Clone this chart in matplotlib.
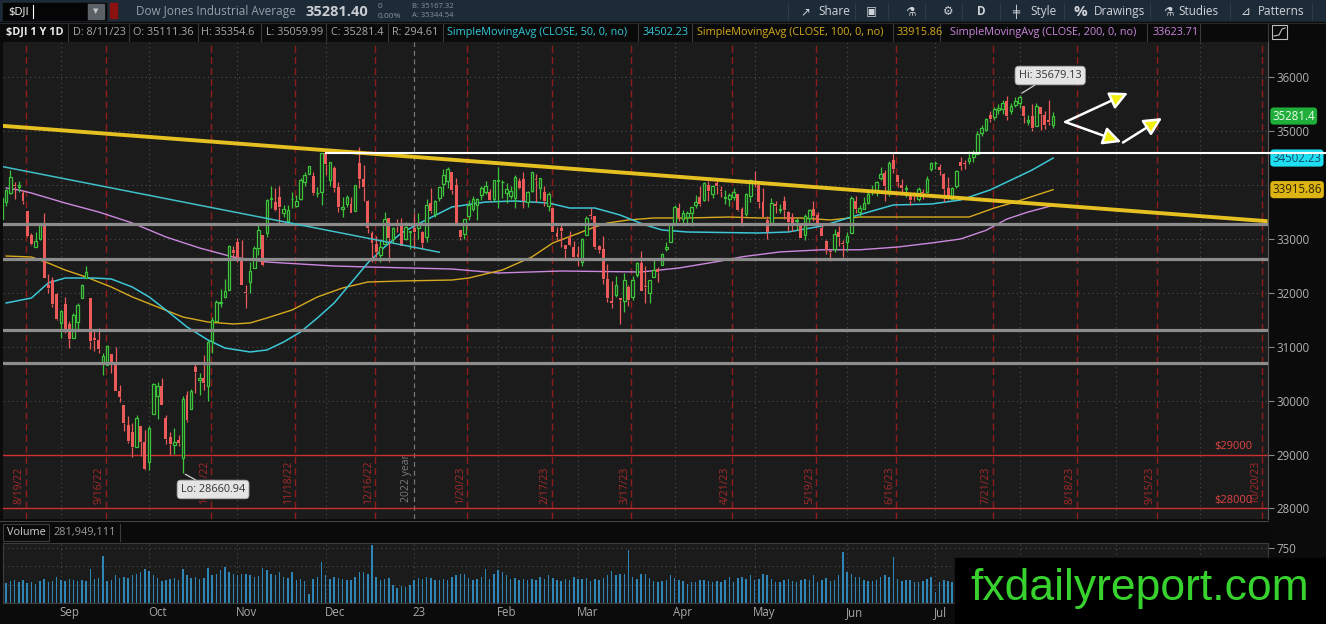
import numpy as np
import pandas as pd
import matplotlib
matplotlib.use("Agg")
import matplotlib.pyplot as plt
from matplotlib.patches import Rectangle

plt.rcParams['font.family'] = ['Open Sans', 'DejaVu Sans']

# ---------------- data ----------------
holidays = ['2022-09-05', '2022-11-24', '2022-12-26', '2023-01-02', '2023-01-16',
            '2023-02-20', '2023-04-07', '2023-05-29', '2023-06-19', '2023-07-04',
            '2023-09-04']
expiries = ['2022-08-19', '2022-09-16', '2022-10-21', '2022-11-18', '2022-12-16',
            '2023-01-20', '2023-02-17', '2023-03-17', '2023-04-21', '2023-05-19',
            '2023-06-16', '2023-07-21', '2023-08-18', '2023-09-15', '2023-10-20']

# daily OHLC, $DJI 8/12/22 - 8/11/23 (one row per month)
opens = [
    33376, 33683, 33854, 34008, 33960, 33861, 33512, 33068, 32859, 33006, 33273, 32153, 32240, 31984,
    31447, 31798, 31416, 31160, 31460, 31900, 32278, 31900, 31170, 31118, 30699, 30664, 30874, 30700, 30184, 29917, 29553, 29417, 29147, 29538, 29240,
    28855, 29749, 30085, 30280, 29683, 29327, 29187, 29269, 28946, 30112, 29851, 30618, 30375, 30427, 30267, 31111, 31481, 31818, 31920, 32045, 32788,
    32936, 32640, 32009, 32200, 32453, 32827, 33071, 33108, 33747, 33679, 33781, 33486, 33340, 33737, 33615, 33746, 34051, 34213, 34165, 33849, 33873,
    34589, 34089, 34318, 33973, 33565, 33641, 33658, 33512, 34418, 34113, 33706, 33104, 32906, 32707, 32907, 33385, 33001, 33254, 33264, 32997, 33121,
    33210, 33206, 33134, 33039, 33661, 33460, 33764, 34017, 34082, 34234, 33996, 33164, 33098, 33419, 33552, 33640, 33820, 33872, 33880, 33741,
    34068, 34051, 33860, 33798, 33761, 34070, 34106, 33680, 33898, 34120, 33954, 33870, 33620, 33583, 33111, 33211, 32890, 33010, 32846,
    32720, 32580, 33070, 33442, 33420, 32866, 32822, 32258, 31850, 31958, 31900, 31850, 32106, 31920, 32328, 32560, 32125, 31998, 32300, 32439, 32523, 32812, 32940,
    33297, 33580, 33370, 33407, 33480, 33627, 33772, 33724, 34000, 33836, 34048, 33916, 33754, 33742, 33783, 33831, 33561, 33456, 33797,
    34067, 33998, 33690, 33350, 33300, 33657, 33545, 33700, 33494, 33404, 33332, 33288, 33080, 33395, 33554, 33440, 33211, 32967, 32780, 32810, 33130, 32920,
    32947, 33120, 33700, 33500, 33564, 33666, 33865, 33905, 34136, 34224, 33877, 34466, 34186, 34000, 33920, 33800, 33726, 33750, 33867, 33880, 34300,
    34410, 34330, 34200, 33939, 33740, 33980, 34420, 34400, 34444, 34515, 34580, 34962, 35026, 35300, 35268, 35390, 35421, 35560, 35380, 35480,
    35520, 35460, 35180, 35290, 35100, 35440, 35300, 35210, 35111.36]
highs = [
    33762, 33934, 34281, 34063, 34078, 33900, 33512, 33113, 33124, 33300, 33478, 32355, 32300, 32000,
    31677, 31928, 31486, 31626, 31819, 32174, 32505, 31900, 31300, 31350, 30881, 31039, 30874, 31005, 30299, 29917, 29716, 29592, 29734, 29538, 29460,
    29533, 30337, 30348, 30429, 29738, 29425, 29494, 29367, 30087, 30178, 30219, 30722, 30518, 30844, 31124, 31561, 31860, 32065, 32260, 32883, 32867,
    33017, 32987, 32154, 32575, 32870, 33302, 33071, 33740, 33986, 33950, 33987, 33637, 33640, 33869, 33812, 34127, 34238, 34362, 34234, 33962, 34590,
    34595, 34429, 34349, 34054, 33783, 33819, 33771, 34011, 34712, 34371, 33718, 33152, 33050, 32994, 33494, 33385, 33227, 33374, 33381, 33307, 33152,
    33484, 33482, 33148, 33733, 33946, 33728, 33974, 34300, 34336, 34234, 34134, 33164, 33380, 33725, 33798, 33758, 33977, 34083, 33935, 34087,
    34334, 34087, 34036, 33984, 34180, 34137, 34245, 33897, 34252, 34208, 34128, 33982, 33869, 33583, 33223, 33304, 32890, 33157, 32970,
    32875, 33026, 33426, 33572, 33424, 32894, 33064, 32533, 32213, 32314, 31901, 32373, 32149, 32317, 32573, 32779, 32500, 32240, 32641, 32485, 32747, 32941, 33274,
    33632, 33664, 33542, 33524, 33587, 33817, 33975, 34052, 34082, 33997, 34113, 33982, 33900, 33850, 33944, 33843, 33588, 33855, 34104,
    34257, 33999, 33943, 33432, 33760, 33713, 33642, 33799, 33528, 33491, 33392, 33305, 33458, 33560, 33702, 33504, 33266, 32990, 32790, 33191, 33240, 32976,
    33136, 33798, 33800, 33638, 33786, 33866, 34000, 34067, 34336, 34288, 34450, 34588, 34186, 34120, 34002, 33840, 33875, 33965, 33935, 34163, 34424,
    34450, 34390, 34220, 34155, 33972, 34277, 34516, 34465, 34630, 34650, 35005, 35118, 35254, 35370, 35446, 35509, 35578, 35650, 35526, 35630,
    35679.13, 35460, 35300, 35500, 35520, 35450, 35380, 35579, 35354.6]
lows = [
    33360, 33621, 33835, 33743, 33878, 33650, 33040, 32892, 32851, 32987, 32273, 31999, 31733, 31500,
    31171, 31252, 30980, 31160, 31326, 31900, 32278, 30967, 30917, 30876, 30479, 30664, 30522, 30183, 29977, 29439, 29218, 28959, 29136, 28974, 28716,
    28715, 29749, 29652, 29911, 29203, 28988, 29002, 29161, 28660.94, 29607, 29851, 30142, 30113, 30193, 29991, 30876, 31481, 31744, 31905, 32045, 32627,
    32581, 32143, 31728, 32006, 32453, 32694, 32496, 33042, 33583, 33518, 33290, 33417, 33283, 33573, 33601, 33721, 33985, 34205, 33809, 33777, 33635,
    34196, 33987, 33881, 33492, 33412, 33587, 33477, 33511, 33953, 33711, 33105, 32573, 32658, 32581, 32907, 32573, 32928, 33130, 32876, 32977, 32816,
    32812, 33009, 32813, 32948, 33485, 33405, 33703, 33800, 33942, 33844, 33264, 32982, 33008, 33353, 33520, 33360, 33729, 33833, 33708, 33712,
    33583, 33764, 33669, 33743, 33583, 33919, 33580, 33596, 33873, 33679, 33748, 33620, 33518, 33127, 32955, 32858, 32637, 32861, 32653,
    32500, 32500, 33070, 33379, 32821, 32740, 32167, 31825, 31719, 31922, 31429, 31645, 31755, 31873, 32300, 32030, 31804, 31805, 32300, 32197, 32521, 32779, 32940,
    33272, 33342, 33298, 33306, 33235, 33582, 33607, 33697, 33705, 33757, 33828, 33771, 33650, 33621, 33719, 33516, 33235, 33420, 33686,
    33968, 33570, 33400, 33008, 33300, 33480, 33475, 33380, 33144, 33144, 33166, 33011, 32989, 33257, 33339, 33270, 33053, 32730, 32586, 32758, 32868, 32674,
    32777, 33120, 33488, 33406, 33564, 33647, 33813, 33796, 34090, 33700, 33799, 34223, 33960, 33860, 33785, 33630, 33700, 33703, 33747, 33880, 34254,
    34307, 34188, 33695, 33722, 33734, 33937, 34287, 34300, 34390, 34436, 34580, 34916, 35008, 35168, 35215, 35322, 35313, 35216, 35317, 35456,
    35433, 35156, 35117, 35005, 35100, 35017, 35045, 35124, 35059.99]
closes = [
    33761, 33912, 34152, 33980, 33999, 33706, 33063, 32909, 32969, 33291, 32283, 32098, 31790, 31510,
    31656, 31318, 31145, 31581, 31774, 32151, 32381, 31105, 31135, 30962, 30822, 31020, 30706, 30184, 30077, 29590, 29261, 29135, 29684, 29226, 28726,
    29490, 30317, 30274, 29927, 29297, 29203, 29240, 29211, 30039, 29635, 30186, 30524, 30424, 30334, 31083, 31500, 31837, 31840, 32034, 32861, 32733,
    32654, 32148, 32002, 32403, 32827, 33161, 32514, 33716, 33748, 33537, 33593, 33554, 33547, 33746, 33700, 34098, 34195, 34347, 33850, 33853, 34590,
    34395, 34430, 33947, 33597, 33598, 33781, 33477, 34005, 34109, 33966, 33203, 32920, 32757, 32850, 33377, 33027, 33204, 33241, 32876, 33221, 33147,
    33136, 33270, 32930, 33631, 33518, 33704, 33974, 34190, 34303, 33911, 33297, 33045, 33375, 33630, 33734, 33744, 33949, 33978, 33717, 34086,
    34093, 34054, 33926, 33891, 34156, 33949, 33699, 33869, 34246, 34089, 34128, 33697, 33827, 33130, 33045, 33154, 32817, 32889, 32657,
    32662, 33004, 33391, 33431, 32856, 32798, 32254, 31910, 31820, 32155, 31875, 32247, 31862, 32245, 32561, 32031, 32106, 32238, 32433, 32395, 32717, 32860, 33274,
    33601, 33403, 33483, 33486, 33587, 33685, 33647, 34030, 33887, 33988, 33977, 33897, 33787, 33809, 33875, 33531, 33302, 33827, 34098,
    34051, 33684, 33414, 33128, 33675, 33619, 33562, 33531, 33310, 33301, 33349, 33012, 33421, 33536, 33427, 33287, 33056, 32800, 32765, 33093, 33043, 32908,
    33061, 33763, 33563, 33573, 33665, 33834, 33877, 34066, 34212, 33979, 34408, 34299, 34054, 33952, 33947, 33727, 33715, 33927, 33853, 34122, 34408,
    34418, 34288, 33922, 33734, 33944, 34262, 34348, 34395, 34509, 34586, 34952, 35061, 35225, 35228, 35411, 35438, 35520, 35282, 35459, 35560,
    35630, 35283, 35216, 35066, 35473, 35314, 35124, 35176, 35281.4]
# volume, millions
volumes = [
    290, 270, 300, 310, 280, 320, 270, 280, 260, 300, 330, 280, 300, 360,
    310, 300, 330, 320, 300, 320, 300, 460, 330, 340, 640, 300, 310, 380, 340, 360, 340, 380, 400, 420, 470,
    430, 380, 340, 300, 320, 330, 340, 320, 470, 380, 340, 350, 330, 340, 480, 380, 400, 450, 490, 420, 400,
    380, 400, 390, 380, 360, 370, 480, 450, 400, 380, 420, 360, 340, 420, 320, 330, 300, 125, 330, 360, 560,
    380, 330, 350, 340, 330, 320, 310, 360, 420, 420, 400, 790, 360, 320, 330, 340, 250, 210, 230, 220, 240,
    320, 340, 330, 350, 340, 320, 310, 330, 320, 360, 380, 390, 400, 340, 320, 330, 350, 470, 330, 400,
    445, 420, 380, 330, 340, 320, 330, 310, 330, 320, 350, 330, 380, 340, 320, 300, 330, 310, 360,
    330, 330, 340, 300, 330, 320, 340, 380, 430, 380, 400, 390, 720, 360, 330, 400, 390, 340, 300, 290, 300, 320, 380,
    340, 320, 300, 260, 280, 290, 320, 310, 300, 290, 300, 290, 310, 360, 290, 340, 360, 330, 380,
    320, 330, 390, 380, 330, 290, 280, 320, 330, 300, 290, 310, 330, 320, 380, 280, 320, 340, 300, 320, 380, 695,
    420, 400, 360, 350, 320, 300, 300, 310, 350, 380, 360, 625, 330, 300, 310, 320, 280, 290, 300, 330, 350,
    150, 280, 320, 300, 290, 300, 330, 320, 320, 330, 360, 350, 340, 380, 320, 320, 340, 380, 320, 340,
    330, 340, 300, 320, 290, 300, 310, 290, 282]

# moving averages (bar index, value)
sma50_idx = [1, 7, 11, 15, 22, 26, 31, 35, 39, 44, 49, 53, 59, 63, 67, 71, 75, 79, 83, 87, 91, 95,
             99, 107, 115, 122, 130, 135, 141, 147, 153, 157, 163, 180, 187, 195, 202, 212, 221,
             228, 235, 240, 245, 250]
sma50_val = [31813, 31905, 32184, 32276, 32276, 32258, 32109, 31924, 31683, 31368, 31126, 30978,
             30904, 30941, 31089, 31275, 31534, 31813, 32184, 32555, 32851, 33111, 33280, 33594,
             33686, 33705, 33668, 33575, 33575, 33445, 33260, 33167, 33130, 33111, 33130, 33241,
             33408, 33631, 33649, 33724, 33910, 34094, 34280, 34502.23]
sma100_idx = [1, 7, 11, 15, 20, 26, 31, 37, 43, 49, 55, 59, 63, 69, 75, 81, 87, 95, 107, 111, 119,
              126, 131, 136, 141, 144, 149, 155, 163, 173, 180, 190, 197, 204, 214, 221, 230, 236,
              241, 250]
sma100_val = [32684, 32666, 32555, 32425, 32295, 32109, 31924, 31739, 31553, 31460, 31423, 31442,
              31534, 31683, 31924, 32091, 32202, 32221, 32239, 32276, 32425, 32666, 32926, 33074,
              33223, 33297, 33353, 33390, 33390, 33408, 33390, 33390, 33353, 33408, 33408, 33408,
              33408, 33575, 33686, 33915.86]
sma200_idx = [1, 4, 7, 15, 23, 31, 39, 47, 55, 63, 71, 79, 87, 107, 118, 133, 152, 161, 171, 176,
              185, 195, 204, 213, 221, 228, 234, 239, 244, 250]
sma200_val = [33946, 33909, 33853, 33668, 33501, 33297, 33037, 32833, 32666, 32573, 32536, 32499,
              32481, 32443, 32369, 32406, 32388, 32462, 32592, 32670, 32760, 32800, 32800, 32851,
              32926, 33000, 33160, 33370, 33500, 33623.71]

# drawings
yellow_trend_idx = [0, 301]
yellow_trend_val = [35100, 33330]
cyan_trend_idx = [0, 104]
cyan_trend_val = [34345, 32755]
white_level_idx = [77, 315]
white_level_val = 34595
support_levels = [33273, 32623, 31317, 30694]
red_levels = [29000, 28000]
arrow_from = [(252.9, 35171), (252.9, 35171), (266.6, 34790)]
arrow_to = [(267.8, 35709), (266.2, 34800), (275.9, 35245)]

price_ticks = [28000, 29000, 30000, 31000, 32000, 33000, 35000, 36000]

# ---------------- figure ----------------
W, H = 1326, 624
fig = plt.figure(figsize=(W / 100, H / 100), dpi=100)
fig.patch.set_facecolor('#0b0b0b')


def pax(x0, y0, x1, y1, **kw):
    return fig.add_axes([x0 / W, 1 - y1 / H, (x1 - x0) / W, (y1 - y0) / H], **kw)


bg = pax(0, 0, W, H, zorder=0)
bg.set_xlim(0, W)
bg.set_ylim(H, 0)
bg.axis('off')

# top toolbar
bg.add_patch(Rectangle((0, 0), W, 22, color='#1d2a37'))
bg.add_patch(Rectangle((3, 3), 103, 17, color='#050505'))
bg.text(8, 11.5, '$DJI', color='white', fontsize=8, va='center')
bg.plot([33, 33], [5, 18], color='white', lw=0.8)
bg.add_patch(Rectangle((88, 4), 16, 15, color='#5c6168'))
bg.text(96, 11.5, '▼', color='#c8c8c8', fontsize=5, ha='center', va='center', family='DejaVu Sans')
bg.add_patch(Rectangle((110, 3), 7, 15, color='#8c1212'))
bg.text(136, 11.5, 'Dow Jones Industrial Average', color='#96a0aa', fontsize=8.5, va='center')
bg.text(305, 11.5, '35281.40', color='#c9cdd2', fontsize=10.5, va='center', weight='bold')
bg.text(378, 6.5, '0', color='#8a939c', fontsize=6, va='center')
bg.text(378, 16, '0.00%', color='#8a939c', fontsize=6, va='center')
bg.text(412, 6, 'B: 35167.32', color='#8a939c', fontsize=5.5, va='center')
bg.text(412, 15.5, 'A: 35344.54', color='#8a939c', fontsize=5.5, va='center')
tool_items = [(800, '↗'), (818, 'Share'), (866, '▣'), (905, '⚗'), (943, '⚙'), (977, 'D'),
              (1012, '╪'), (1030, 'Style'), (1074, '%'), (1094, 'Drawings'), (1163, '⚗'),
              (1178, 'Studies'), (1240, '⊿'), (1258, 'Patterns')]
for tx, label in tool_items:
    bold = label in ('%', 'D')
    bg.text(tx, 11.5, label, color='#d0d4d8', fontsize=11 if label == '%' else 8.5,
            va='center', weight='bold' if bold else 'normal')
for sx in [788, 855, 888, 925, 962, 1000, 1064, 1150, 1230, 1312]:
    bg.plot([sx, sx], [3, 19], color='#2d3b49', lw=0.8)

# info bar
bg.add_patch(Rectangle((0, 22), W, 20, color='#0a0a0a'))
info_cells = [(6, '$DJI 1 Y 1D', '#e8e8e8', 'bold'), (73, 'D: 8/11/23', '#a8a8a8', 'normal'),
              (133, 'O: 35111.36', '#a8a8a8', 'normal'), (201, 'H: 35354.6', '#a8a8a8', 'normal'),
              (266, 'L: 35059.99', '#a8a8a8', 'normal'), (331, 'C: 35281.4', '#a8a8a8', 'normal'),
              (392, 'R: 294.61', '#a8a8a8', 'normal'),
              (447, 'SimpleMovingAvg (CLOSE, 50, 0, no)', '#33c8d8', 'normal'),
              (643, '34502.23', '#33c8d8', 'normal'),
              (697, 'SimpleMovingAvg (CLOSE, 100, 0, no)', '#d4a91c', 'normal'),
              (897, '33915.86', '#d4a91c', 'normal'),
              (950, 'SimpleMovingAvg (CLOSE, 200, 0, no)', '#c985dc', 'normal'),
              (1153, '33623.71', '#c985dc', 'normal')]
for tx, label, col, wt in info_cells:
    bg.text(tx, 32.5, label, color=col, fontsize=7.8, va='center', weight=wt)
for sx in [68, 129, 198, 261, 326, 388, 443, 638, 692, 893, 940, 1147, 1200, 1268]:
    bg.plot([sx, sx], [23, 41], color='#3a3a3a', lw=0.8)
bg.plot([0, W], [22.5, 22.5], color='#2a2a2a', lw=0.8)
bg.add_patch(Rectangle((1272, 25), 15, 14, fill=False, ec='#c0c0c0', lw=0.8))
bg.plot([1274, 1279, 1282, 1285], [36, 35, 29, 28], color='#c0c0c0', lw=0.8)

# volume header row
bg.add_patch(Rectangle((0, 520), 1268, 23, color='#0a0a0a'))
bg.plot([0, 1268], [521, 521], color='#444444', lw=0.8)
bg.add_patch(Rectangle((3, 524), 46, 17, fill=False, ec='#3c3c3c', lw=0.8))
bg.text(7, 532.5, 'Volume', color='#d0d0d0', fontsize=7.8, va='center')
bg.text(53, 532.5, '281,949,111', color='#9a9a9a', fontsize=7.8, va='center')
bg.plot([120, 120], [524, 541], color='#3c3c3c', lw=0.8)

# ---------------- price panel ----------------
ax = pax(3, 42, 1268, 519, zorder=1)
ax.set_facecolor('#1b1b1b')
ax.set_xlim(0.24, 301.1)
ax.set_ylim(27805, 36655)

o = np.array(opens, float)
h = np.array(highs, float)
l = np.array(lows, float)
c = np.array(closes, float)
n = len(c)
x = np.arange(n)

days = pd.bdate_range('2022-08-12', '2023-10-31', freq='C', holidays=holidays)
month_starts = [i for i in range(1, len(days)) if days[i].month != days[i - 1].month]

for v in range(28000, 36001, 1000):
    ax.axhline(v, color='#4d4d4d', ls=(0, (1, 3)), lw=0.8, zorder=0.5)
for i in month_starts:
    if days[i].month == 1:
        ax.axvline(i, color='#777777', ls=(0, (4, 3)), lw=0.9, zorder=0.6)
        ax.text(i - 1.8, 28120, '2022 year', rotation=90, color='#7c7c7c', fontsize=7.5,
                ha='center', va='bottom', zorder=0.7)
    else:
        ax.axvline(i, color='#4d4d4d', ls=(0, (1, 3)), lw=0.8, zorder=0.5)

for d in expiries:
    t = pd.Timestamp(d)
    i = days.get_loc(t)
    ax.axvline(i + 0.7, color='#8e1c1c', ls=(0, (5, 3)), lw=1.0, zorder=0.8)
    ax.text(i - 0.9, 28080, f'{t.month}/{t.day}/{t:%y}', rotation=90, color='#a82a2a',
            fontsize=7.5, ha='center', va='bottom', zorder=0.9)

for v in red_levels:
    ax.axhline(v, color='#cc3030', lw=1.0, zorder=1)
    ax.text(297.4, v + 50, f'${v}', color='#e04444', fontsize=8, ha='right', va='bottom', zorder=1)

# moving averages
ax.plot(sma200_idx, sma200_val, color='#cc88de', lw=1.0, zorder=2)
ax.plot(sma100_idx, sma100_val, color='#d8aa1e', lw=1.0, zorder=2)
ax.plot(sma50_idx, sma50_val, color='#3cc6d6', lw=1.1, zorder=2)

# candles
up = c >= o
green, red, face = '#3cc43c', '#ec5a5a', '#1b1b1b'
body_lo = np.minimum(o, c)
body_hi = np.maximum(o, c)
body_h = np.maximum(body_hi - body_lo, 8)
cols = np.where(up, green, red)
ax.vlines(x, l, body_lo, colors=cols, lw=0.9, zorder=3)
ax.vlines(x, body_hi, h, colors=cols, lw=0.9, zorder=3)
ax.bar(x[up], body_h[up], bottom=body_lo[up], width=0.6, facecolor=face, edgecolor=green,
       linewidth=0.9, zorder=3.2)
ax.bar(x[~up], body_h[~up], bottom=body_lo[~up], width=0.7, color=red, linewidth=0, zorder=3.2)

# drawings
for v in support_levels:
    ax.axhline(v, color='#8c8c8c', lw=2.3, zorder=4)
ax.plot(cyan_trend_idx, cyan_trend_val, color='#3fc0c8', lw=1.1, zorder=4)
ax.plot(yellow_trend_idx, yellow_trend_val, color='#e6c020', lw=2.8, zorder=4.2,
        solid_capstyle='butt')
for (x0, y0), (x1, y1) in zip(arrow_from, arrow_to):
    ax.annotate('', xy=(x1, y1), xytext=(x0, y0), zorder=6,
                arrowprops=dict(arrowstyle='-|>,head_length=0.9,head_width=0.45',
                                facecolor='#f2ee10', edgecolor='white', lw=1.8,
                                mutation_scale=12, shrinkA=0, shrinkB=0))

hi_i = int(np.argmax(h))
lo_i = int(np.argmin(l))
ax.annotate(f'Hi: {h[hi_i]:.2f}', xy=(hi_i, h[hi_i]), xytext=(249.3, 36033), ha='center',
            va='center', fontsize=7.8, color='#333333', zorder=7,
            bbox=dict(boxstyle='round,pad=0.35', fc='#e4e4e4', ec='#aaaaaa', lw=0.6),
            arrowprops=dict(arrowstyle='-', color='#cfcfcf', lw=0.9, shrinkA=0, shrinkB=2))
ax.annotate(f'Lo: {l[lo_i]:.2f}', xy=(lo_i, l[lo_i]), xytext=(50.2, 28353), ha='center',
            va='center', fontsize=7.8, color='#333333', zorder=7,
            bbox=dict(boxstyle='round,pad=0.35', fc='#e4e4e4', ec='#aaaaaa', lw=0.6),
            arrowprops=dict(arrowstyle='-', color='#cfcfcf', lw=0.9, shrinkA=0, shrinkB=2))

# right axis
ax.yaxis.tick_right()
ax.set_yticks(price_ticks)
ax.set_yticklabels([str(v) for v in price_ticks])
ax.tick_params(axis='y', colors='#8a8a8a', labelcolor='#b2b2b2', labelsize=8.3, length=4,
               pad=2, width=0.8)
ax.set_xticks([])
for s in ax.spines.values():
    s.set_visible(False)
ax.spines['right'].set_visible(True)
ax.spines['right'].set_color('#5a5a5a')

ytr = ax.get_yaxis_transform()
tags = [(c[-1], '35281.4', '#1fae3a', '#eaffea'),
        (sma50_val[-1], '34502.23', '#1ee0f2', '#124a66'),
        (sma100_val[-1], '33915.86', '#dcb414', '#2e2600')]
for v, label, fc, tc in tags:
    ax.text(1.0035, v, label, transform=ytr, ha='left', va='center', fontsize=8.3, color=tc,
            clip_on=False, zorder=8,
            bbox=dict(boxstyle='round,pad=0.18,rounding_size=0.3', fc=fc, ec='none'))
# the white level runs on through the price scale
ax.plot(white_level_idx, [white_level_val] * 2, color='white', lw=1.5, zorder=9, clip_on=False)

# ---------------- volume panel ----------------
av = pax(3, 543, 1268, 603, zorder=1)
av.set_facecolor('#1b1b1b')
av.set_xlim(ax.get_xlim())
av.set_ylim(0, 818)
for v in (250, 500, 750):
    av.axhline(v, color='#4d4d4d', ls=(0, (1, 3)), lw=0.8, zorder=0.5)
for i in month_starts:
    av.axvline(i, color='#4d4d4d', ls=(0, (1, 3)), lw=0.8, zorder=0.5)
av.bar(x, volumes, width=0.35, color='#2e86b6', zorder=2)
av.yaxis.tick_right()
av.set_yticks([750])
av.set_yticklabels(['750'])
av.tick_params(axis='y', colors='#8a8a8a', labelcolor='#b2b2b2', labelsize=8.3, length=4,
               pad=2, width=0.8)
av.set_xticks([])
for s in av.spines.values():
    s.set_color('#3c3c3c')

# month labels (those under the watermark box are not shown)
xtr = av.get_xaxis_transform()
for i in month_starts:
    if i > 226:
        continue
    t = days[i]
    label = t.strftime('%y') if t.month == 1 else t.strftime('%b')
    av.text(i - 0.3, -0.16, label, transform=xtr, color='#a8a8a8', fontsize=8.3,
            ha='left', va='center', clip_on=False)

# ---------------- watermark ----------------
ov = pax(0, 0, W, H, zorder=10)
ov.set_xlim(0, W)
ov.set_ylim(H, 0)
ov.axis('off')
ov.patch.set_alpha(0)
ov.add_patch(Rectangle((955, 558), W - 955, H - 558, color='black'))
ov.text(1140, 600, 'fxdailyreport.com', color='#38d22e', fontsize=32,
        family='Liberation Sans', ha='center', va='baseline')

fig.savefig('out.png', dpi=100, facecolor=fig.get_facecolor())
